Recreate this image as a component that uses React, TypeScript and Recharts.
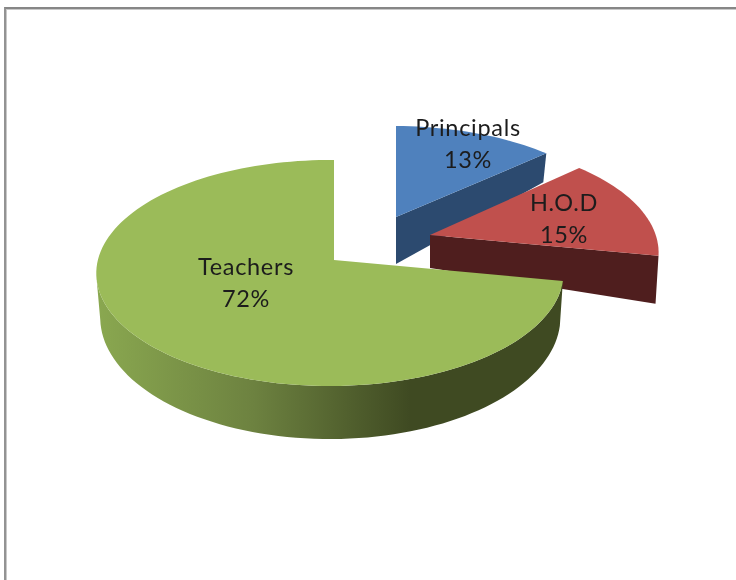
import React from "react";
import { PieChart, Pie, Cell } from "recharts";

const categories = ["Principals", "H.O.D", "Teachers"];
const shares = [13, 15, 72];
const chartData = categories.map((name, i) => ({ name, value: shares[i] }));

const TILT = 111.5 / 232;
const Q = -0.0175;
const RAD = Math.PI / 180;

type Look = {
  top: string;
  side: string;
  dx: number;
  dy: number;
  sx: number;
  sy: number;
  p: number;
  apexDepth: number;
  endDepth: number;
  labelDx: number;
  labelDy: number;
};

const looks: Record<string, Look> = {
  Principals: { top: "#4f81bd", side: "#2c4a6f", dx: 62, dy: -43, sx: 0.97, sy: 0.91, p: 0.115, apexDepth: 47, endDepth: 29, labelDx: 134, labelDy: -116 },
  "H.O.D": { top: "#c0504d", side: "#4f1e1e", dx: 96, dy: -25, sx: 0.99, sy: 0.985, p: 0.16, apexDepth: 33, endDepth: 48, labelDx: 230, labelDy: -41 },
  Teachers: { top: "#9bbb59", side: "url(#teacherRim)", dx: 0, dy: 0, sx: 1, sy: 1, p: 0.115, apexDepth: 0, endDepth: 0, labelDx: -88, labelDy: 23 },
};

function project(r: number, theta: number, R: number, p: number) {
  const u = Math.sin(theta * RAD) * r;
  const v = -Math.cos(theta * RAD) * r;
  const w = 1 - p * v - Q * u;
  return { x: (R * u) / w, y: (R * TILT * v) / w };
}

function pts(list: { x: number; y: number }[]) {
  return list.map((p) => `${p.x.toFixed(2)},${p.y.toFixed(2)}`).join(" ");
}

function Slice3D(props: any) {
  const { cx, cy, outerRadius, startAngle, endAngle, payload, name } = props;
  const look = looks[payload?.name ?? name];
  const t0 = 90 - startAngle;
  const t1 = 90 - endAngle;
  const ax = cx + look.dx;
  const ay = cy + look.dy;
  const at = (r: number, t: number) => {
    const q = project(r, t, outerRadius, look.p);
    return { x: ax + q.x * look.sx, y: ay + q.y * look.sy };
  };
  const rim: { x: number; y: number }[] = [];
  const steps = Math.max(12, Math.round((t1 - t0) / 2));
  for (let i = 0; i <= steps; i++) rim.push(at(1, t0 + ((t1 - t0) * i) / steps));
  const face = [at(0, 0), ...rim];

  let side: { x: number; y: number }[];
  if (look.apexDepth > 0) {
    const apex = at(0, 0);
    const end = at(1, t1);
    side = [apex, end, { x: end.x - 3, y: end.y + look.endDepth }, { x: apex.x, y: apex.y + look.apexDepth }];
  } else {
    const lit = rim.filter((_, i) => t0 + ((t1 - t0) * i) / steps <= 263);
    const lower = lit
      .map((q) => ({ x: q.x * 0.985 + 5.4, y: q.y + 45 + (q.y - 283) * 0.078 }))
      .reverse();
    side = [...lit, ...lower];
  }
  return (
    <g>
      <polygon points={pts(side)} fill={look.side} />
      <polygon points={pts(face)} fill={look.top} />
    </g>
  );
}

function SliceLabel(props: any) {
  const { cx, cy, payload, name, value } = props;
  const key = payload?.name ?? name;
  const look = looks[key];
  const x = cx + look.labelDx;
  const y = cy + look.labelDy;
  return (
    <text x={x} y={y} textAnchor="middle" fontFamily="Lato, sans-serif" fontSize={23.5} letterSpacing={0.7} fill="#1c1c1c">
      <tspan x={x} dy={-8}>{key}</tspan>
      <tspan x={x} dy={32}>{`${value}%`}</tspan>
    </text>
  );
}

export default function App() {
  return (
    <div style={{ position: "absolute", left: 0, top: 0, width: 736, height: 580, background: "#fff", overflow: "hidden" }}>
      <div
        style={{
          position: "absolute",
          left: 4,
          top: 7,
          width: 740,
          height: 590,
          borderTop: "2px solid #868686",
          borderLeft: "2px solid #939393",
          boxShadow: "inset 1px 1px 0 #c8c8c8",
        }}
      />
      <div style={{ position: "absolute", left: 0, top: 0, filter: "blur(0.45px)" }}>
        <PieChart width={736} height={580} margin={{ top: 0, right: 0, bottom: 0, left: 0 }}>
          <defs>
            <linearGradient id="teacherRim" gradientUnits="userSpaceOnUse" x1={96} y1={0} x2={410} y2={0}>
              <stop offset="0" stopColor="#8aa850" />
              <stop offset="0.5" stopColor="#6d8240" />
              <stop offset="1" stopColor="#3f4a22" />
            </linearGradient>
          </defs>
          <Pie
            data={chartData}
            dataKey="value"
            nameKey="name"
            cx={334}
            cy={260}
            innerRadius={0}
            outerRadius={232}
            startAngle={90}
            endAngle={-270}
            paddingAngle={0}
            stroke="none"
            isAnimationActive={false}
            labelLine={false}
            label={SliceLabel}
            shape={Slice3D}
          >
            {chartData.map((d) => (
              <Cell key={d.name} fill={looks[d.name].top} />
            ))}
          </Pie>
        </PieChart>
      </div>
    </div>
  );
}
